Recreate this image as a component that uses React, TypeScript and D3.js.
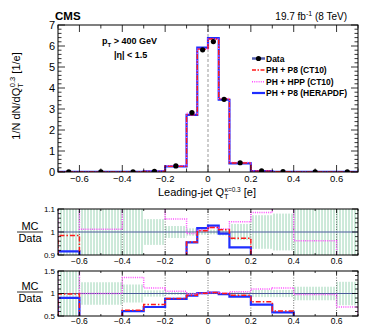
import React, { useEffect, useRef } from 'react';
import * as d3 from 'd3';

// bin edges of the leading-jet charge histogram
const binEdges = [-0.7, -0.6, -0.4, -0.3, -0.2, -0.1, -0.05, 0, 0.05, 0.1, 0.2, 0.3, 0.4, 0.6, 0.7];

// top panel: normalised distribution
const dataValues = [0.003, 0.005, 0.012, 0.035, 0.29, 2.83, 5.82, 6.21, 3.46, 0.44, 0.05, 0.015, 0.006, 0.003];
const ph8ct10 = [0.003, 0.004, 0.01, 0.03, 0.27, 2.72, 5.85, 6.33, 3.49, 0.43, 0.04, 0.012, 0.005, 0.002];
const hppct10 = [0.004, 0.005, 0.014, 0.037, 0.3, 2.8, 5.86, 6.33, 3.5, 0.46, 0.054, 0.017, 0.006, 0.002];
const ph8hera = [0.003, 0.004, 0.01, 0.03, 0.27, 2.72, 5.92, 6.38, 3.44, 0.41, 0.04, 0.012, 0.005, 0.002];

// first ratio panel (MC / Data)
const r1Band = [0.2, 0.2, 0.1, 0.056, 0.026, 0.016, 0.012, 0.01, 0.015, 0.035, 0.073, 0.08, 0.2, 0.2];
const r1Red = [0.985, 0.85, 0.85, 0.85, 0.85, 0.956, 1.005, 1.02, 1.01, 0.973, 0.85, 0.85, 0.85, 0.85];
const r1Mag = [1.15, 1.012, 1.15, 1.15, 1.057, 0.993, 1.008, 1.02, 1.013, 1.045, 1.085, 1.12, 0.962, 0.85];
const r1Blue = [0.916, 0.85, 0.85, 0.85, 0.85, 0.955, 1.017, 1.028, 0.993, 0.933, 0.85, 0.85, 0.85, 0.85];

// second ratio panel (MC / Data)
const r2Band = [0.6, 0.25, 0.2, 0.07, 0.03, 0.02, 0.02, 0.015, 0.015, 0.03, 0.08, 0.08, 0.15, 0.26];
const r2Red = [0.99, 0.4, 0.63, 0.755, 0.89, 0.96, 1.005, 1.02, 1.0, 0.96, 0.815, 0.61, 0.4, 0.4];
const r2Mag = [1.6, 1.0, 1.355, 1.125, 1.05, 0.99, 1.0, 1.02, 1.01, 1.04, 1.1, 1.125, 0.98, 0.7];
const r2Blue = [0.905, 0.4, 0.61, 0.7, 0.88, 0.955, 1.01, 1.02, 0.985, 0.93, 0.755, 0.58, 0.4, 0.4];

const xTicks = [-0.6, -0.4, -0.2, 0, 0.2, 0.4, 0.6];
const legendLabels = ['Data', 'PH + P8 (CT10)', 'PH + HPP (CT10)', 'PH + P8 (HERAPDF)'];

const RED = '#ff1a1a';
const MAG = '#ff4dff';
const BLUE = '#1f2eff';
const FONT = 'Liberation Sans, Arial, Helvetica, sans-serif';

const App = () => {
  const svgRef = useRef(null);

  useEffect(() => {
    const svg = d3.select(svgRef.current);
    svg.selectAll('*').remove();

    const x = d3.scaleLinear().domain([-0.7, 0.7]).range([58, 358]);
    const yTop = d3.scaleLinear().domain([0, 7]).range([172, 25]);
    const yR1 = d3.scaleLinear().domain([0.9, 1.1]).range([255, 209]);
    const yR2 = d3.scaleLinear().domain([0.5, 1.5]).range([316, 271]);

    const defs = svg.append('defs');
    const pat = defs.append('pattern')
      .attr('id', 'hatch')
      .attr('patternUnits', 'userSpaceOnUse')
      .attr('width', 3)
      .attr('height', 4);
    pat.append('line')
      .attr('x1', 1).attr('x2', 1).attr('y1', 0).attr('y2', 4)
      .attr('stroke', '#8fcfac').attr('stroke-width', 0.9);

    const clip = (id, y) => {
      defs.append('clipPath').attr('id', id)
        .append('rect')
        .attr('x', x.range()[0]).attr('y', y.range()[1])
        .attr('width', x.range()[1] - x.range()[0])
        .attr('height', y.range()[0] - y.range()[1]);
    };
    clip('clipTop', yTop);
    clip('clipR1', yR1);
    clip('clipR2', yR2);

    // step line for histogram
    const stepPath = (vals, y) => {
      const pts = [];
      vals.forEach((v, i) => {
        pts.push([x(binEdges[i]), y(v)]);
        pts.push([x(binEdges[i + 1]), y(v)]);
      });
      pts.unshift([x(binEdges[0]), y(y.domain()[0])]);
      pts.push([x(binEdges[binEdges.length - 1]), y(y.domain()[0])]);
      return d3.line()(pts);
    };

    const drawAxes = (y, yMajors, yMinorStep, xMajLen, xMinLen, yMajLen, yMinLen) => {
      const g = svg.append('g').attr('stroke', '#000').attr('stroke-width', 0.8);
      const [x0, x1] = x.range();
      const [yb, yt] = y.range();
      // x ticks every 0.1, longer at 0.2
      d3.range(-7, 8).forEach(k => {
        const v = k / 10;
        const major = Math.abs(k) % 2 === 0;
        const len = major ? xMajLen : xMinLen;
        g.append('line').attr('x1', x(v)).attr('x2', x(v)).attr('y1', yb).attr('y2', yb - len);
        g.append('line').attr('x1', x(v)).attr('x2', x(v)).attr('y1', yt).attr('y2', yt + len);
      });
      const [d0, d1] = y.domain();
      const n = Math.round((d1 - d0) / yMinorStep);
      d3.range(0, n + 1).forEach(k => {
        const v = d0 + k * yMinorStep;
        const major = yMajors.some(m => Math.abs(m - v) < 1e-6);
        const len = major ? yMajLen : yMinLen;
        g.append('line').attr('x1', x0).attr('x2', x0 + len).attr('y1', y(v)).attr('y2', y(v));
        g.append('line').attr('x1', x1).attr('x2', x1 - len).attr('y1', y(v)).attr('y2', y(v));
      });
      svg.append('rect')
        .attr('x', x0).attr('y', yt).attr('width', x1 - x0).attr('height', yb - yt)
        .attr('fill', 'none').attr('stroke', '#000').attr('stroke-width', 1);
    };

    const xLabels = (ypos, size) => {
      svg.append('g').selectAll('text')
        .data(xTicks)
        .enter().append('text')
        .attr('x', d => x(d))
        .attr('y', ypos)
        .attr('text-anchor', 'middle')
        .attr('font-family', FONT)
        .attr('font-size', size)
        .text(d => (d === 0 ? '0' : d3.format('.1f')(d).replace('-', '\u2212')));
    };

    const yLabels = (y, vals, fmt, size) => {
      svg.append('g').selectAll('text')
        .data(vals)
        .enter().append('text')
        .attr('x', x.range()[0] - 3)
        .attr('y', d => y(d))
        .attr('dy', '0.36em')
        .attr('text-anchor', 'end')
        .attr('font-family', FONT)
        .attr('font-size', size)
        .text(d => fmt(d));
    };

    // ---------- top panel ----------
    const top = svg.append('g').attr('clip-path', 'url(#clipTop)');
    top.append('line')
      .attr('x1', x(0)).attr('x2', x(0))
      .attr('y1', yTop.range()[0]).attr('y2', yTop.range()[1])
      .attr('stroke', '#999').attr('stroke-width', 1).attr('stroke-dasharray', '3,2');

    top.append('path').attr('d', stepPath(ph8hera, yTop))
      .attr('fill', 'none').attr('stroke', BLUE).attr('stroke-width', 2.2);
    top.append('path').attr('d', stepPath(hppct10, yTop))
      .attr('fill', 'none').attr('stroke', MAG).attr('stroke-width', 1.4).attr('stroke-dasharray', '1,1.5');
    top.append('path').attr('d', stepPath(ph8ct10, yTop))
      .attr('fill', 'none').attr('stroke', RED).attr('stroke-width', 1.4).attr('stroke-dasharray', '5,2,1.5,2');

    const centers = binEdges.slice(0, -1).map((e, i) => (e + binEdges[i + 1]) / 2);
    top.selectAll('circle.pt')
      .data(dataValues)
      .enter().append('circle')
      .attr('cx', (d, i) => x(centers[i]))
      .attr('cy', d => yTop(d))
      .attr('r', 2.6)
      .attr('fill', '#000');

    drawAxes(yTop, d3.range(0, 8), 0.2, 7, 3.5, 7, 3.5);
    yLabels(yTop, d3.range(0, 8), d => String(d), 11);
    xLabels(182, 9.5);

    // y title
    const yt = svg.append('text')
      .attr('transform', 'translate(20,96) rotate(-90)')
      .attr('text-anchor', 'middle')
      .attr('font-family', FONT)
      .attr('font-size', 11);
    yt.append('tspan').text('1/N dN/dQ');
    yt.append('tspan').attr('font-size', 7.5).attr('dy', 3).text('T');
    yt.append('tspan').attr('font-size', 7.5).attr('dx', -4).attr('dy', -8).text('0.3');
    yt.append('tspan').attr('dy', 5).text(' [1/e]');

    // x title
    const xt = svg.append('text')
      .attr('x', 207).attr('y', 196)
      .attr('text-anchor', 'middle')
      .attr('font-family', FONT)
      .attr('font-size', 11);
    xt.append('tspan').text('Leading-jet Q');
    xt.append('tspan').attr('font-size', 7.5).attr('dy', 3).text('T');
    xt.append('tspan').attr('font-size', 6.5).attr('dx', -4).attr('dy', -7).text('\u03ba=0.3');
    xt.append('tspan').attr('dy', 4).text(' [e]');

    // header texts
    svg.append('text').attr('x', 55).attr('y', 20)
      .attr('font-family', FONT).attr('font-weight', 'bold').attr('font-size', 11.5)
      .text('CMS');
    const lumi = svg.append('text').attr('x', 347).attr('y', 20)
      .attr('text-anchor', 'end')
      .attr('font-family', FONT).attr('font-size', 10);
    lumi.append('tspan').text('19.7 fb');
    lumi.append('tspan').attr('font-size', 7).attr('dy', -4).text('-1');
    lumi.append('tspan').attr('dy', 4).text(' (8 TeV)');

    const pt = svg.append('text').attr('x', 102).attr('y', 44)
      .attr('font-family', FONT).attr('font-weight', 'bold').attr('font-size', 9);
    pt.append('tspan').text('p');
    pt.append('tspan').attr('font-size', 6).attr('dy', 2.5).text('T');
    pt.append('tspan').attr('dy', -2.5).text(' > 400 GeV');
    svg.append('text').attr('x', 114).attr('y', 58)
      .attr('font-family', FONT).attr('font-weight', 'bold').attr('font-size', 9)
      .text('|\u03b7| < 1.5');

    // legend
    const leg = svg.append('g');
    const rowsY = [58.5, 70, 81.7, 93];
    leg.append('line').attr('x1', 252).attr('x2', 265).attr('y1', rowsY[0]).attr('y2', rowsY[0])
      .attr('stroke', '#5560b0').attr('stroke-width', 2.5);
    leg.append('circle').attr('cx', 258.5).attr('cy', rowsY[0]).attr('r', 2.6).attr('fill', '#000');
    leg.append('line').attr('x1', 252).attr('x2', 265).attr('y1', rowsY[1]).attr('y2', rowsY[1])
      .attr('stroke', RED).attr('stroke-width', 1.5).attr('stroke-dasharray', '4,1.5,1.5,1.5');
    leg.append('line').attr('x1', 252).attr('x2', 265).attr('y1', rowsY[2]).attr('y2', rowsY[2])
      .attr('stroke', MAG).attr('stroke-width', 1.5).attr('stroke-dasharray', '1,1.2');
    leg.append('line').attr('x1', 252).attr('x2', 265).attr('y1', rowsY[3]).attr('y2', rowsY[3])
      .attr('stroke', BLUE).attr('stroke-width', 2.2);
    leg.selectAll('text')
      .data(legendLabels)
      .enter().append('text')
      .attr('x', 266)
      .attr('y', (d, i) => rowsY[i])
      .attr('dy', '0.36em')
      .attr('font-family', FONT).attr('font-weight', 'bold').attr('font-size', 8.5)
      .text(d => d);

    // ---------- ratio panels ----------
    const ratioPanel = (y, clipId, band, red, mag, blue) => {
      const g = svg.append('g').attr('clip-path', `url(#${clipId})`);
      g.selectAll('rect.band')
        .data(band)
        .enter().append('rect')
        .attr('x', (d, i) => x(binEdges[i]))
        .attr('width', (d, i) => x(binEdges[i + 1]) - x(binEdges[i]))
        .attr('y', d => y(1 + d))
        .attr('height', d => y(1 - d) - y(1 + d))
        .attr('fill', 'url(#hatch)');
      g.selectAll('line.grid')
        .data(xTicks)
        .enter().append('line')
        .attr('x1', d => x(d)).attr('x2', d => x(d))
        .attr('y1', y.range()[0]).attr('y2', y.range()[1])
        .attr('stroke', '#333').attr('stroke-width', 0.7).attr('stroke-dasharray', '1,1.5');
      g.append('line')
        .attr('x1', x.range()[0]).attr('x2', x.range()[1])
        .attr('y1', y(1)).attr('y2', y(1))
        .attr('stroke', '#4a5a9a').attr('stroke-width', 1.1);
      g.append('path').attr('d', stepPath(blue, y))
        .attr('fill', 'none').attr('stroke', BLUE).attr('stroke-width', 2.2);
      g.append('path').attr('d', stepPath(mag, y))
        .attr('fill', 'none').attr('stroke', MAG).attr('stroke-width', 1.5).attr('stroke-dasharray', '1,1.2');
      g.append('path').attr('d', stepPath(red, y))
        .attr('fill', 'none').attr('stroke', RED).attr('stroke-width', 1.5).attr('stroke-dasharray', '5,2,1.5,2');
    };

    ratioPanel(yR1, 'clipR1', r1Band, r1Red, r1Mag, r1Blue);
    drawAxes(yR1, [0.9, 1.0, 1.1], 0.02, 4, 2, 6, 3);
    yLabels(yR1, [0.9, 1.0, 1.1], d => (Math.abs(d - 1) < 1e-6 ? '1' : d3.format('.1f')(d)), 8);
    xLabels(264, 8.5);

    ratioPanel(yR2, 'clipR2', r2Band, r2Red, r2Mag, r2Blue);
    drawAxes(yR2, [0.5, 1.0, 1.5], 0.1, 4, 2, 6, 3);
    yLabels(yR2, [0.5, 1.0, 1.5], d => (Math.abs(d - 1) < 1e-6 ? '1' : d3.format('.1f')(d)), 8);
    xLabels(324, 8.5);

    // MC / Data fraction labels
    const frac = (cy) => {
      svg.append('text').attr('x', 30).attr('y', cy - 2)
        .attr('text-anchor', 'middle').attr('font-family', FONT).attr('font-size', 11)
        .text('MC');
      svg.append('line').attr('x1', 17).attr('x2', 43).attr('y1', cy).attr('y2', cy)
        .attr('stroke', '#000').attr('stroke-width', 0.8);
      svg.append('text').attr('x', 30).attr('y', cy + 10)
        .attr('text-anchor', 'middle').attr('font-family', FONT).attr('font-size', 11)
        .text('Data');
    };
    frac(232);
    frac(292);
  }, []);

  return (
    <svg
      ref={svgRef}
      width={365}
      height={326}
      style={{ position: 'absolute', left: 0, top: 0, background: '#fff' }}
    />
  );
};

export default App;
